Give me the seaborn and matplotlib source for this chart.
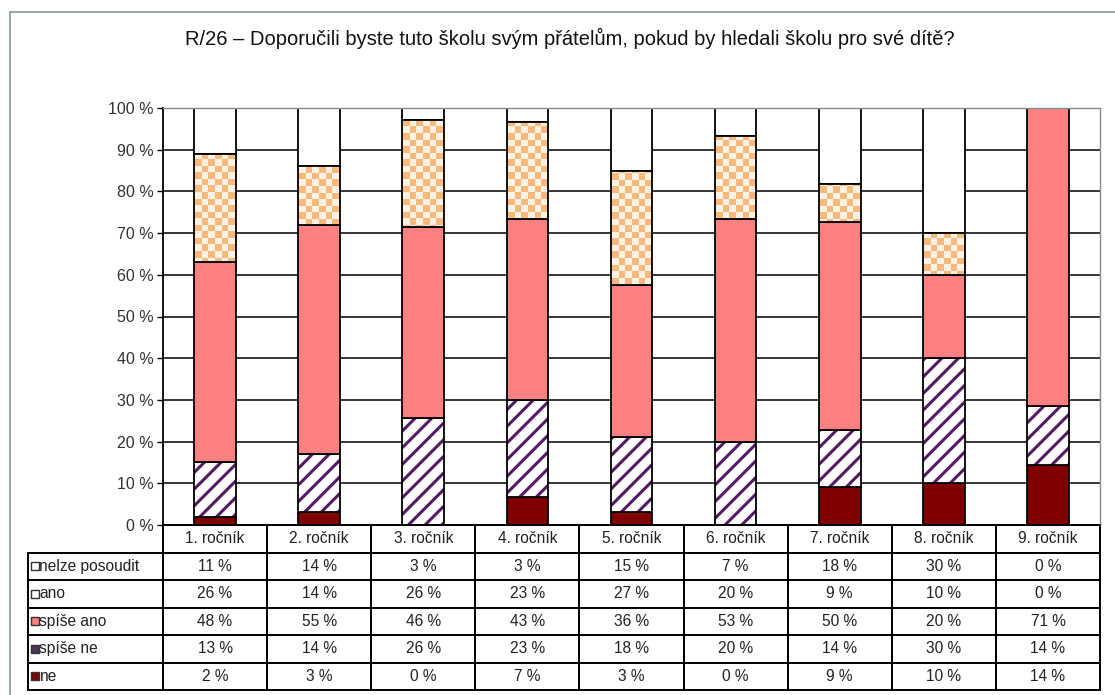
import numpy as np
import matplotlib
matplotlib.use("Agg")
import matplotlib.pyplot as plt
from matplotlib.colors import ListedColormap
from matplotlib.patches import Rectangle
import seaborn as sns

# data (percent of answers per grade)
grades = ["1. ročník", "2. ročník", "3. ročník", "4. ročník", "5. ročník",
          "6. ročník", "7. ročník", "8. ročník", "9. ročník"]
ne = [2, 3, 0, 6.7, 3.0, 0, 9.1, 10, 14.3]
spise_ne = [13, 14, 25.7, 23.3, 18.2, 20, 13.6, 30, 14.3]
spise_ano = [48, 55, 45.7, 43.3, 36.4, 53.3, 50, 20, 71.4]
ano = [26, 14, 25.7, 23.3, 27.3, 20, 9.1, 10, 0]
nelze = [11, 14, 2.9, 3.3, 15.2, 6.7, 18.2, 30, 0]

title = "R/26 – Doporučili byste tuto školu svým přátelům, pokud by hledali školu pro své dítě?"

sns.set_theme(style="white")
plt.rcParams["font.family"] = ["Liberation Sans", "DejaVu Sans"]
plt.rcParams["hatch.linewidth"] = 2.2

W, H = 1115, 695
fig = plt.figure(figsize=(W / 100, H / 100), dpi=100)
ax = fig.add_axes([163 / W, 170 / H, 937 / W, 417 / H])

bar_kw = dict(width=0.4, saturation=1, errorbar=None, ax=ax)
bottom = np.zeros(len(grades))

# ne
sns.barplot(x=grades, y=ne, bottom=bottom, color="#800000",
            edgecolor="black", linewidth=1.3, **bar_kw)
bottom += ne

# spíše ne - purple stripes, then a black outline on top
sns.barplot(x=grades, y=spise_ne, bottom=bottom, color="white",
            edgecolor="#551a63", linewidth=0, hatch="//", **bar_kw)
sns.barplot(x=grades, y=spise_ne, bottom=bottom, color="black",
            fill=False, linewidth=1.3, **bar_kw)
bottom += spise_ne

# spíše ano
sns.barplot(x=grades, y=spise_ano, bottom=bottom, color="#ff8080",
            edgecolor="black", linewidth=1.3, **bar_kw)
bottom += spise_ano

# ano - checkerboard filled afterwards
sns.barplot(x=grades, y=ano, bottom=bottom, color="white",
            edgecolor="black", linewidth=1.3, **bar_kw)
ano_bars = ax.containers[-1]
bottom += ano

# nelze posoudit
sns.barplot(x=grades, y=nelze, bottom=bottom, color="white",
            edgecolor="black", linewidth=1.3, **bar_kw)

ax.set_ylim(0, 100)
xlim = ax.get_xlim()

# checkerboard for "ano"
checker = np.indices((64, 144)).sum(axis=0) % 2
cmap = ListedColormap(["#fff2e4", "#f7b97c"])
for patch in ano_bars.patches:
    im = ax.imshow(checker, cmap=cmap, aspect="auto", interpolation="nearest",
                   extent=[xlim[0], xlim[1], 0, 100], zorder=1.5)
    im.set_clip_path(patch)
    patch.set_facecolor("none")
    patch.set_zorder(2)
ax.set_xlim(xlim)
ax.set_ylim(0, 100)

# axes styling
ax.set_xlabel("")
ax.set_ylabel("")
ax.tick_params(axis="x", length=0, labelbottom=False)
ticks = list(range(0, 101, 10))
ax.set_yticks(ticks)
ax.set_yticklabels([f"{t} %" for t in ticks])
ax.tick_params(axis="y", left=True, length=4, width=1, color="black",
               labelsize=11.5, labelcolor="#333333", pad=3)
ax.yaxis.grid(True, color="black", linewidth=1.1)
ax.set_axisbelow(True)
for side in ["left", "bottom"]:
    ax.spines[side].set_color("black")
    ax.spines[side].set_linewidth(1.3)
for side in ["top", "right"]:
    ax.spines[side].set_color("#8a8a8a")
    ax.spines[side].set_linewidth(1)

# data table under the chart
rows = [("nelze posoudit", nelze, "white"),
        ("ano", ano, "white"),
        ("spíše ano", spise_ano, "#ff8080"),
        ("spíše ne", spise_ne, "#4d3355"),
        ("ne", ne, "#800000")]
cell_text = [[""] + grades]
for label, vals, _ in rows:
    cell_text.append([label] + [f"{v:.0f} %" for v in vals])

lab_w = 135 / 937
tab_h = 165 / 417
tbl = ax.table(cellText=cell_text, colWidths=[lab_w] + [1 / 9] * 9,
               cellLoc="center", bbox=[-lab_w, -tab_h, 1 + lab_w, tab_h])
tbl.auto_set_font_size(False)
tbl.set_fontsize(11.2)
for (r, c), cell in tbl.get_celld().items():
    cell.set_linewidth(1.4)
    cell.set_edgecolor("black")
    cell.get_text().set_color("#222222")
    if c == 0:
        cell.get_text().set_ha("left")
        cell.PAD = 0.085
    if r == 0 and c == 0:
        cell.set_edgecolor("none")
        cell.set_facecolor("none")

# little legend keys in front of the row labels
row_h = tab_h / 6
for i, (label, vals, fc) in enumerate(rows):
    yc = -(i + 1.5) * row_h
    ax.add_patch(Rectangle((-132 / 937, yc - 4 / 417), 8 / 937, 8 / 417,
                           transform=ax.transAxes, facecolor=fc,
                           edgecolor="#333333", linewidth=1, clip_on=False,
                           zorder=5))

# title and outer frame
fig.text(570 / W, 1 - 38 / H, title, ha="center", va="center",
         fontsize=14.5, color="#111111")
fig.add_artist(Rectangle((10 / W, -0.05), 1.2, 0.05 + (H - 12) / H,
                         transform=fig.transFigure, fill=False,
                         edgecolor="#8796a8", linewidth=1.2))

fig.savefig("out.png", dpi=100)
